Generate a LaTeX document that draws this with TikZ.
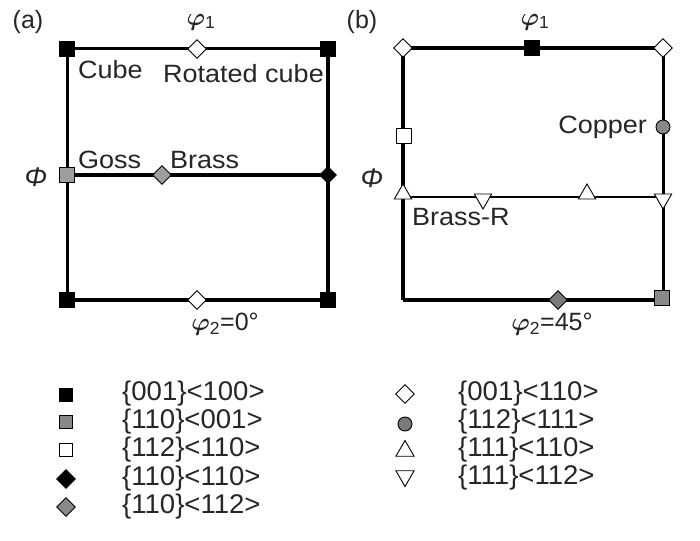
\documentclass[tikz,border=0pt]{standalone}
\usepackage{amsmath}
\usepackage{fontspec}
\setmainfont{Liberation Sans}
\usetikzlibrary{shapes.geometric}
\newcommand{\stx}[1]{\scalebox{1.08}[1]{#1}}
\newcommand{\lgx}[1]{\scalebox{1.02}[1]{#1}}
\newcommand{\phisym}[1]{{\fontsize{25}{27}\selectfont$\boldsymbol{\varphi}$}\textsubscript{#1}}
\definecolor{gA}{HTML}{9E9E9E}
\definecolor{gB}{HTML}{888888}
\definecolor{gC}{HTML}{7A7A7A}
\begin{document}
\begin{tikzpicture}[x=1pt,y=-1pt,
  mk/.style={draw=black, line width=0.9pt, inner sep=0pt},
  sqm/.style={mk, rectangle, minimum size=15pt},
  dia/.style={mk, diamond, minimum size=19pt},
  circm/.style={mk, circle, minimum size=14pt},
  tup/.style={mk, regular polygon, regular polygon sides=3, minimum size=20pt, fill=white},
  tdn/.style={tup, shape border rotate=180},
  lsq/.style={mk, rectangle, minimum size=13pt},
  ldia/.style={mk, diamond, minimum size=19pt},
  lcirc/.style={mk, circle, minimum size=14pt},
  ltup/.style={mk, regular polygon, regular polygon sides=3, minimum size=21pt, fill=white},
  ltdn/.style={ltup, shape border rotate=180},
  lab/.style={font=\fontsize{25}{27}\selectfont, inner sep=0pt, text=black!85},
  leg/.style={font=\fontsize{27}{29}\selectfont, inner sep=0pt, anchor=west, text=black!85},
  edge/.style={line cap=square}
]
\useasboundingbox[fill=white] (0,0) rectangle (700,540);

% ---------- panel (a) ----------
\coordinate (atl) at (67,49);
\coordinate (atr) at (328,49);
\coordinate (aml) at (67,175);
\coordinate (amr) at (328,175);
\coordinate (abl) at (67,300);
\coordinate (abr) at (328,300);
\draw[edge, line width=3pt] (atl) -- (atr);
\draw[edge, line width=3pt] (atl) -- (abl);
\draw[edge, line width=4.5pt] (atr) -- (abr);
\draw[edge, line width=3.5pt] (aml) -- (amr);
\draw[edge, line width=4pt] (abl) -- (abr);

\node[sqm, fill=black] (a1) at (atl) {};
\node[sqm, fill=black] (a2) at (atr) {};
\node[sqm, fill=black] (a3) at (abl) {};
\node[sqm, fill=black] (a4) at (abr) {};
\node[dia, fill=white] (a5) at (197,49) {};
\node[dia, fill=white] (a6) at (197,300) {};
\node[sqm, fill=gA] (a7) at (aml) {};
\node[dia, fill=gA] (a8) at (162,175) {};
\node[dia, fill=black, minimum size=17pt] (a9) at (amr) {};

\node[lab] (la) at (28,22) {(a)};
\node[lab] (lphia) at (201,22) {\phisym{1}};
\node[lab] (lPhia) at (36,177) {\fontsize{27}{29}\selectfont\itshape Φ};
\node[lab, anchor=west] (lcube) at (78,70) {\stx{Cube}};
\node[lab, anchor=west] (lrot) at (163,74) {\stx{Rotated cube}};
\node[lab, anchor=west] (lgoss) at (78,160) {\stx{Goss}};
\node[lab, anchor=west] (lbrass) at (170,160) {\stx{Brass}};
\node[lab] (lphi2a) at (225,324) {\phisym{2}=0°};

% ---------- panel (b) ----------
\coordinate (btl) at (403,48);
\coordinate (btr) at (663,48);
\coordinate (bml) at (403,197);
\coordinate (bmr) at (663,197);
\coordinate (bbl) at (403,300);
\coordinate (bbr) at (663,300);
\draw[edge, line width=4.5pt] (btl) -- (btr);
\draw[edge, line width=4.5pt] (btl) -- (bbl);
\draw[edge, line width=4.5pt] (bbl) -- (bbr);
\draw[edge, line width=3pt] (btr) -- (bbr);
\draw[edge, line width=2.5pt] (bml) -- (bmr);

\node[dia, fill=white] (b1) at (btl) {};
\node[dia, fill=white] (b2) at (btr) {};
\node[sqm, fill=black] (b3) at (532,48) {};
\node[sqm, fill=white] (b4) at (404,136) {};
\node[circm, fill=gB] (b5) at (663,127) {};
\node[tup] (b6) at (403,194) {};
\node[tdn] (b7) at (483,199) {};
\node[tup] (b8) at (587,194) {};
\node[tdn] (b9) at (663,199) {};
\node[dia, fill=gC] (b10) at (558,300) {};
\node[sqm, fill=gB] (b11) at (662,298) {};

\node[lab] (lb) at (362,22) {(b)};
\node[lab] (lphib) at (535,22) {\phisym{1}};
\node[lab] (lPhib) at (372,178) {\fontsize{27}{29}\selectfont\itshape Φ};
\node[lab, anchor=east] (lcopper) at (647,127) {\stx{Copper}};
\node[lab, anchor=west] (lbrassr) at (412,217) {\stx{Brass-R}};
\node[lab] (lphi2b) at (552,324) {\phisym{2}=45°};

% ---------- legend ----------
\node[lsq, fill=black] (m1) at (66,395) {};
\node[lsq, fill=gB] (m2) at (66,422) {};
\node[lsq, fill=white] (m3) at (66,450) {};
\node[ldia, fill=black] (m4) at (66,479) {};
\node[ldia, fill=gB] (m5) at (66,507) {};
\node[leg] (t1) at (122,394) {\lgx{\{001\}<100>}};
\node[leg] (t2) at (122,422) {\lgx{\{110\}<001>}};
\node[leg] (t3) at (122,450) {\lgx{\{112\}<110>}};
\node[leg] (t4) at (122,479) {\lgx{\{110\}<110>}};
\node[leg] (t5) at (122,507) {\lgx{\{110\}<112>}};

\node[ldia, fill=white] (m6) at (405,394) {};
\node[lcirc, fill=gC] (m7) at (405,424) {};
\node[ltup] (m8) at (405,451) {};
\node[ltdn] (m9) at (405,476) {};
\node[leg] (t6) at (458,394) {\lgx{\{001\}<110>}};
\node[leg] (t7) at (458,422) {\lgx{\{112\}<111>}};
\node[leg] (t8) at (458,450) {\lgx{\{111\}<110>}};
\node[leg] (t9) at (458,478) {\lgx{\{111\}<112>}};
\end{tikzpicture}
\end{document}
